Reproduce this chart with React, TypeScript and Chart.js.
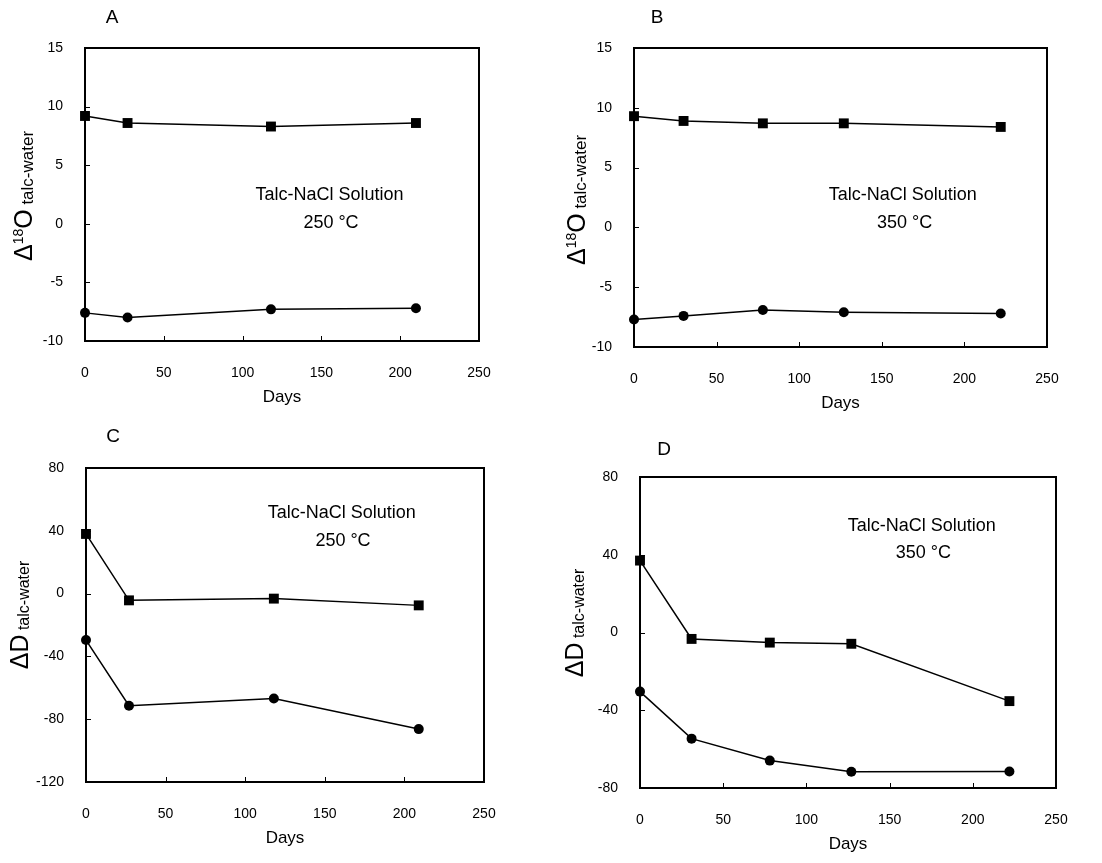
import React, { useEffect, useRef } from 'react';
import { Chart, registerables } from 'chart.js';

Chart.register(...registerables);

// ---------- data ----------
const daysA = [0, 27, 118, 210];
const o18SquaresA = [9.2, 8.6, 8.3, 8.6];
const o18CirclesA = [-7.6, -8.0, -7.3, -7.2];

const daysB = [0, 30, 78, 127, 222];
const o18SquaresB = [9.3, 8.9, 8.7, 8.7, 8.4];
const o18CirclesB = [-7.7, -7.4, -6.9, -7.1, -7.2];

const daysC = [0, 27, 118, 209];
const dDSquaresC = [38, -4.3, -3.2, -7.5];
const dDCirclesC = [-29.6, -71.4, -66.8, -86.3];

const daysD = [0, 31, 78, 127, 222];
const dDSquaresD = [37, -3.3, -5.2, -5.8, -35.3];
const dDCirclesD = [-30.4, -54.6, -65.9, -71.6, -71.5];

const panelLetters = ['A', 'B', 'C', 'D'];
const annotationLine1 = 'Talc-NaCl Solution';
const annotationTemps = ['250 °C', '350 °C', '250 °C', '350 °C'];
const xTitle = 'Days';
const xRange = [0, 250, 50];
const yRangeO18 = [-10, 15, 5];
const yRangeD = [[-120, 80, 40], [-80, 80, 40]];

// ---------- layout (styles) ----------
const FONT = "'Liberation Sans', Arial, Helvetica, sans-serif";
const NARROW = "'Liberation Sans Narrow', 'Liberation Sans', Arial, sans-serif";

type Part = { text: string; size: number; dy: number };

type PanelDef = {
  letter: string;
  days: number[];
  squares: number[];
  circles: number[];
  yRange: number[];
  yTitle: Part[];
  temp: string;
  canvas: { x: number; y: number; w: number; h: number };
  area: { l: number; t: number; r: number; b: number };
  letterPos: [number, number];
  annot1: [number, number];
  annot2: [number, number];
  titlePos: [number, number]; // baseline x, center y
};

const o18Title: Part[] = [
  { text: 'Δ', size: 25, dy: 0 },
  { text: '18', size: 14, dy: -9 },
  { text: 'O', size: 25, dy: 0 },
  { text: ' talc-water', size: 17, dy: 1 },
];
const dTitle: Part[] = [
  { text: 'ΔD', size: 25, dy: 0 },
  { text: ' talc-water', size: 16, dy: 1 },
];

const PANELS: PanelDef[] = [
  {
    letter: panelLetters[0], days: daysA, squares: o18SquaresA, circles: o18CirclesA,
    yRange: yRangeO18, yTitle: o18Title, temp: annotationTemps[0],
    canvas: { x: 0, y: 0, w: 550, h: 420 },
    area: { l: 85, t: 48, r: 479, b: 341 },
    letterPos: [112, 18], annot1: [329.5, 195], annot2: [331, 222.7], titlePos: [32, 196],
  },
  {
    letter: panelLetters[1], days: daysB, squares: o18SquaresB, circles: o18CirclesB,
    yRange: yRangeO18, yTitle: o18Title, temp: annotationTemps[1],
    canvas: { x: 550, y: 0, w: 552, h: 420 },
    area: { l: 84, t: 48, r: 497, b: 347 },
    letterPos: [107, 18], annot1: [352.8, 195], annot2: [354.7, 222.7], titlePos: [35, 200],
  },
  {
    letter: panelLetters[2], days: daysC, squares: dDSquaresC, circles: dDCirclesC,
    yRange: yRangeD[0], yTitle: dTitle, temp: annotationTemps[2],
    canvas: { x: 0, y: 420, w: 550, h: 443 },
    area: { l: 86, t: 48, r: 484, b: 362 },
    letterPos: [113, 17], annot1: [341.7, 93.3], annot2: [343, 120.7], titlePos: [28, 195],
  },
  {
    letter: panelLetters[3], days: daysD, squares: dDSquaresD, circles: dDCirclesD,
    yRange: yRangeD[1], yTitle: dTitle, temp: annotationTemps[3],
    canvas: { x: 550, y: 420, w: 552, h: 443 },
    area: { l: 90, t: 57, r: 506, b: 368 },
    letterPos: [114, 30], annot1: [371.7, 105.7], annot2: [373.3, 133.3], titlePos: [33, 203],
  },
];

const X_AXIS_H = 70;

function PanelChart({ p }: { p: PanelDef }) {
  const ref = useRef<HTMLCanvasElement>(null);

  useEffect(() => {
    const canvas = ref.current!;
    const deco = {
      id: 'deco',
      beforeDatasetsDraw(chart: any) {
        const { ctx, chartArea: a, scales } = chart;
        const xs = scales.x;
        const ys = scales.y;
        ctx.save();
        ctx.strokeStyle = '#000';
        ctx.lineWidth = 1;
        xs.ticks.forEach((t: any) => {
          if (t.value > xs.min && t.value < xs.max) {
            const px = Math.round(xs.getPixelForValue(t.value)) + 0.5;
            ctx.beginPath();
            ctx.moveTo(px, a.bottom);
            ctx.lineTo(px, a.bottom - 5);
            ctx.stroke();
          }
        });
        ys.ticks.forEach((t: any) => {
          if (t.value > ys.min && t.value < ys.max) {
            const py = Math.round(ys.getPixelForValue(t.value)) + 0.5;
            ctx.beginPath();
            ctx.moveTo(a.left, py);
            ctx.lineTo(a.left + 5, py);
            ctx.stroke();
          }
        });
        ctx.lineWidth = 2;
        ctx.strokeRect(a.left, a.top, a.right - a.left, a.bottom - a.top);
        ctx.restore();
      },
      afterDraw(chart: any) {
        const { ctx } = chart;
        ctx.save();
        ctx.fillStyle = '#000';
        ctx.textAlign = 'center';
        ctx.textBaseline = 'middle';
        ctx.font = `19px ${FONT}`;
        ctx.fillText(p.letter, p.letterPos[0], p.letterPos[1]);
        ctx.font = `18px ${FONT}`;
        ctx.fillText(annotationLine1, p.annot1[0], p.annot1[1]);
        ctx.fillText(p.temp, p.annot2[0], p.annot2[1]);

        // rotated y-axis title with mixed sizes
        ctx.translate(p.titlePos[0], p.titlePos[1]);
        ctx.rotate(-Math.PI / 2);
        ctx.textAlign = 'left';
        ctx.textBaseline = 'alphabetic';
        let total = 0;
        const widths = p.yTitle.map((part) => {
          ctx.font = `${part.size}px ${FONT}`;
          const w = ctx.measureText(part.text).width;
          total += w;
          return w;
        });
        let x = -total / 2;
        p.yTitle.forEach((part, i) => {
          ctx.font = `${part.size}px ${FONT}`;
          ctx.fillText(part.text, x, part.dy);
          x += widths[i];
        });
        ctx.restore();
      },
    };

    const mk = (ys: number[], style: string, radius: number) => ({
      data: p.days.map((d, i) => ({ x: d, y: ys[i] })),
      borderColor: '#000',
      backgroundColor: '#000',
      borderWidth: 1.5,
      pointStyle: style,
      pointRadius: radius,
      pointBorderWidth: 0,
      pointBackgroundColor: '#000',
      tension: 0,
      clip: false as any,
    });

    const { w, h } = p.canvas;
    const a = p.area;
    const chart = new Chart(canvas, {
      type: 'line',
      data: {
        datasets: [mk(p.squares, 'rect', 7), mk(p.circles, 'circle', 5)] as any,
      },
      options: {
        responsive: false,
        animation: false,
        events: [],
        layout: {
          padding: { left: 0, top: a.t, right: w - a.r, bottom: h - a.b - X_AXIS_H },
        },
        plugins: { legend: { display: false }, tooltip: { enabled: false } },
        scales: {
          x: {
            type: 'linear',
            min: xRange[0],
            max: xRange[1],
            grid: { display: false },
            border: { display: false },
            ticks: {
              stepSize: xRange[2],
              padding: 16,
              color: '#000',
              font: { family: NARROW, size: 14 },
              maxRotation: 0,
            },
            title: {
              display: true,
              text: xTitle,
              color: '#000',
              font: { family: FONT, size: 17 },
              padding: { top: 0, bottom: 3 },
            },
            afterFit: (s: any) => { s.height = X_AXIS_H; },
          },
          y: {
            type: 'linear',
            min: p.yRange[0],
            max: p.yRange[1],
            grid: { display: false },
            border: { display: false },
            ticks: {
              stepSize: p.yRange[2],
              padding: 14,
              color: '#000',
              font: { family: NARROW, size: 14 },
            },
            afterFit: (s: any) => { s.width = a.l; },
          },
        },
      },
      plugins: [deco],
    });
    return () => chart.destroy();
  }, [p]);

  return (
    <canvas
      ref={ref}
      width={p.canvas.w}
      height={p.canvas.h}
      style={{ position: 'absolute', left: p.canvas.x, top: p.canvas.y, display: 'block' }}
    />
  );
}

export default function App() {
  return (
    <div style={{ position: 'absolute', left: 0, top: 0, width: 1102, height: 863, background: '#fff' }}>
      {PANELS.map((p) => (
        <PanelChart key={p.letter} p={p} />
      ))}
    </div>
  );
}
